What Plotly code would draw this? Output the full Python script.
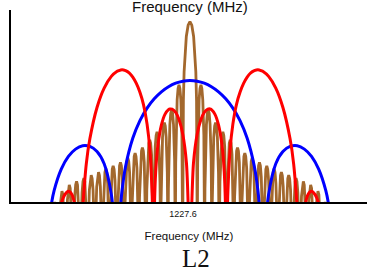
import plotly.graph_objects as go

# ---- data (frequency offset from 1227.6 MHz, relative PSD in dB) ----
# P(Y) code, BPSK(10) -- positive half (mirrored for the negative side)
F_BLUE = [0, 1, 2, 3, 4, 5, 6, 7, 8, 9, 9.5, 9.8, 10.23, 10.6, 11, 12, 13, 14,
          15, 16, 17, 18, 19, 19.5, 20.0, 20.46]
DB_BLUE = [0, -0.14, -0.55, -1.27, -2.31, -3.73, -5.63, -8.19, -11.8, -17.5,
           -22.4, -27.2, -34, -29.2, -23.2, -17.0, -14.5, -13.45, -13.3, -14.0,
           -15.5, -18.1, -22.5, -26.3, -32.8, -34]

# M code, BOC(10,5) -- positive half
F_RED = [0, 0.5, 1, 1.5, 2, 2.5, 2.8, 3, 3.5, 4, 4.5, 4.8, 5.0, 5.115, 5.3,
         5.6, 6, 6.5, 7, 7.5, 8, 8.5, 9, 9.5, 10, 10.23, 11, 12, 13, 14, 14.5,
         15, 15.345, 15.8, 16.5, 17, 17.5, 18, 18.5, 19, 20.46]
DB_RED = [-34, -16.7, -11.0, -8.1, -6.5, -5.85, -5.8, -5.95, -6.9, -9.1, -13.4,
          -18.8, -27.3, -34, -22.9, -14.3, -8.9, -4.9, -2.4, -0.6, 0.7, 1.55,
          2.0, 2.2, 2.0, 1.85, 0.85, -1.55, -5.5, -11.9, -17.0, -26.1, -34,
          -28.4, -23.3, -22.6, -23.3, -25.1, -28.1, -32.0, -34]

# L2C, BPSK(1): lobe peak levels (lobe 0 = main lobe), lobe width in MHz
BROWN_LOBE_PEAKS = [12.0, -0.9, -6.0, -8.6, -10.5, -12.1, -13.7, -14.8, -15.8,
                    -16.7, -17.4, -18.0, -18.7, -19.3, -19.9, -20.6, -21.3,
                    -22.6, -24.8, -27.0]
BROWN_CHIP = 1.023

TICK_VALS = [0]
TICK_TEXT = ["1227.6"]

# ---- build mirrored traces ----
def mirror(f, d):
    xs = [-v for v in reversed(f[1:])] + list(f)
    ys = list(reversed(d[1:])) + list(d)
    return xs, ys

bx, by = mirror(F_BLUE, DB_BLUE)
rx, ry = mirror(F_RED, DB_RED)

# lobe outline template (fraction across lobe, dB relative to lobe peak)
T_SHAPE = [0.05, 0.1, 0.25, 0.375, 0.5, 0.625, 0.75, 0.9, 0.95]
D_SHAPE = [-16.1, -10.2, -3.0, -0.7, 0.0, -0.7, -3.0, -10.2, -16.1]
NULL_DB = -34

def lobe(a, b, peak):
    return ([a + t * (b - a) for t in T_SHAPE], [peak + d for d in D_SHAPE])

pos_x, pos_y = [], []
for k in range(1, len(BROWN_LOBE_PEAKS)):
    a, b = k * BROWN_CHIP, (k + 1) * BROWN_CHIP
    lx, ly = lobe(a, b, BROWN_LOBE_PEAKS[k])
    pos_x += [a] + lx
    pos_y += [NULL_DB] + ly
pos_x.append(len(BROWN_LOBE_PEAKS) * BROWN_CHIP)
pos_y.append(NULL_DB)
mx, my = lobe(-BROWN_CHIP, BROWN_CHIP, BROWN_LOBE_PEAKS[0])
brx = [-v for v in reversed(pos_x)] + mx + pos_x
bry = list(reversed(pos_y)) + my + pos_y

fig = go.Figure()
fig.add_trace(go.Scatter(x=brx, y=bry, mode="lines",
                         line=dict(color="#a3682d", width=2.8)))
fig.add_trace(go.Scatter(x=bx, y=by, mode="lines", line_shape="spline",
                         line=dict(color="#0000ff", width=3)))
fig.add_trace(go.Scatter(x=rx, y=ry, mode="lines", line_shape="spline",
                         line=dict(color="#ff0000", width=3)))

fig.update_layout(
    width=367, height=270,
    margin=dict(l=11, r=0, t=10, b=68),
    paper_bgcolor="white", plot_bgcolor="white",
    showlegend=False,
    font=dict(family="Liberation Sans, Arial, sans-serif", color="#111"),
    xaxis=dict(range=[-25.03, 24.76], showgrid=False, zeroline=False,
               showline=True, linecolor="black", linewidth=2,
               tickvals=TICK_VALS, ticktext=TICK_TEXT, ticks="",
               tickfont=dict(size=9, family="Liberation Sans Narrow, Arial"),
               ticklabelshift=-7, ticklabelstandoff=2,
               title=dict(text="Frequency (MHz)", font=dict(size=11.5),
                          standoff=14)),
    yaxis=dict(range=[-24.8, 14.4], showgrid=False, zeroline=False,
               showline=True, linecolor="black", linewidth=2,
               showticklabels=False, ticks=""),
    annotations=[
        dict(text="Frequency (MHz)", xref="paper", yref="paper", x=0.503,
             y=1.0, yanchor="bottom", showarrow=False, yshift=-7,
             font=dict(size=15)),
        dict(text="L2", xref="paper", yref="paper", x=0.519, y=-0.295,
             yanchor="middle", showarrow=False,
             font=dict(size=25, family="Liberation Serif, Times New Roman, serif",
                       color="#111")),
    ],
)

fig.write_html("out.html", config={"displayModeBar": False},
               post_script="document.body.style.margin='0px';"
                           "document.body.style.overflow='hidden';")
